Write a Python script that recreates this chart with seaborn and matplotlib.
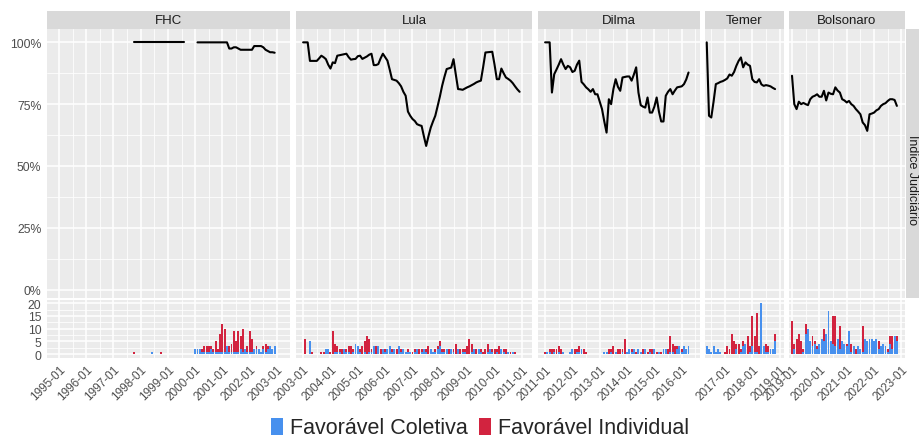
import numpy as np
import pandas as pd
import matplotlib
matplotlib.use("Agg")
import matplotlib.pyplot as plt
import seaborn as sns
from matplotlib.patches import Patch

# ---------------- data ----------------
panels = ["FHC", "Lula", "Dilma", "Temer", "Bolsonaro"]
series_start = {"FHC": (1997, 10), "Lula": (2003, 1), "Dilma": (2011, 1),
                "Temer": (2016, 5), "Bolsonaro": (2019, 1)}

fhc_indice = [100, 100, 100, 100, 100, 100, 100, 100, 100, 100, 100, 100,
              100, 100, 100, 100, 100, 100, 100, 100, 100, 100, 100,
              np.nan, np.nan, np.nan, np.nan, np.nan,
              100, 100, 100, 100, 100, 100, 100, 100, 100, 100, 100, 100, 100, 100,
              97.5, 97.5, 98, 98, 97.5, 97, 97, 97, 97, 97, 97,
              98.5, 98.5, 98.5, 98.5, 98, 97, 96.5, 96, 96, 95.8]
lula_indice = [100, 100, 100, 92.5, 92.5, 92.5, 92.5, 93.5, 94.6, 94, 93.2, 91,
               89.4, 91.9, 91.6, 94.6, 94.8, 95, 95.2, 95.4, 94, 93, 93.2, 93.3,
               94.4, 94.6, 93.3, 93.8, 94.3, 95, 95.4, 90.8, 90.8, 91.2, 93.5, 95.4,
               94, 92.6, 89, 85.1, 84.8, 84.5, 83.5, 82.2, 80, 78.4, 72, 70.3,
               69, 68.2, 66.9, 66.5, 66.2, 62, 58.1, 62, 65.5, 68, 70.3, 74.1,
               78, 82.4, 86, 89.2, 89.5, 89.8, 93.2, 87, 81.1, 81, 80.8, 81.3,
               81.8, 82.2, 82.7, 83.2, 83.8, 84.2, 84.5, 90, 95.9, 96, 96.1, 96.2,
               91, 85.1, 85.1, 89.4, 87.5, 85.8, 85.2, 84.5, 83.5, 82.2, 81, 80]
dilma_indice = [100, 100, 100, 79.7, 87.1, 89, 91, 93.2, 91, 89.2, 90.5, 89.9,
                88, 88.5, 91, 92.6, 84, 83, 81.8, 81, 80, 81.1, 79, 79,
                76, 73, 68, 63.5, 77, 75, 81.1, 85.1, 82, 80.4, 85.8, 86,
                86.2, 86.2, 84.5, 87, 89.9, 79.7, 74.6, 74, 73.6, 77.7, 71.6, 71.6,
                74, 77.7, 72, 68, 68, 78.4, 80, 81.1, 79, 80.5, 81.8, 82,
                82.2, 83.1, 85, 87.8]
temer_indice = [100, 70.3, 69.6, 76, 83.1, 83.5, 84, 84.3, 84.8, 85.4, 87, 86.5,
                88, 90.5, 92.5, 93.9, 89.9, 91.9, 91, 90.5, 85.1, 84, 83.8, 85.1,
                83, 82.4, 82.7, 82.5, 82.2, 81.6, 81.1]
bolsonaro_indice = [86.5, 75, 73, 76, 75, 75.5, 75, 74.6, 77, 78, 78.4, 79,
                    78, 78, 80.4, 76.5, 79.7, 79.2, 79, 81.8, 80.5, 79.7, 77, 76.5,
                    75.7, 76.3, 75, 74.3, 73, 72, 70.9, 67.6, 66.5, 64.2, 70.9, 71.2,
                    71.6, 72.5, 73, 74.3, 75, 75.4, 76.3, 77, 77, 76.7, 74.3]

fhc_coletiva = [0, 0, 0, 0, 0, 0, 0, 0, 1, 0, 0, 0, 0, 0, 0, 0, 0, 0, 0, 0, 0, 0, 0, 0, 0, 0, 0,
                2, 2, 2, 1, 1, 1, 1, 2, 1, 1, 1, 1, 1, 1, 3, 1, 1, 1, 1, 1, 2, 1, 2, 1,
                1, 1, 2, 2, 2, 1, 2, 1, 2, 3, 2, 3]
fhc_individual = [1, 0, 0, 0, 0, 0, 0, 0, 0, 0, 0, 0, 1, 0, 0, 0, 0, 0, 0, 0, 0, 0, 0, 0, 0, 0, 0,
                  0, 0, 0, 1, 2, 2, 2, 1, 1, 4, 1, 7, 11, 9, 0, 2, 3, 8, 4, 8, 5, 9, 0, 2,
                  8, 5, 0, 1, 0, 0, 1, 3, 1, 0, 0, 0]
lula_coletiva = [0, 0, 0, 5, 0, 0, 0, 0, 0, 0, 2, 2, 0, 0, 1, 1, 1, 0, 2, 1, 1, 0, 1, 4,
                 3, 1, 0, 1, 0, 1, 1, 3, 0, 3, 0, 2, 1, 2, 3, 1, 2, 0, 3, 1, 2, 1, 1, 1,
                 0, 1, 2, 0, 1, 2, 1, 0, 2, 1, 1, 2, 3, 1, 1, 2, 0, 2, 1, 0, 2, 0, 1, 1,
                 0, 0, 1, 2, 0, 2, 1, 0, 0, 1, 2, 1, 0, 1, 0, 2, 1, 0, 1, 0, 1, 0, 0, 0]
lula_individual = [0, 6, 0, 0, 1, 0, 0, 0, 1, 1, 0, 0, 1, 9, 3, 2, 1, 2, 0, 1, 2, 3, 1, 0,
                   0, 1, 3, 4, 7, 5, 1, 0, 3, 0, 2, 0, 1, 0, 0, 1, 0, 2, 0, 1, 0, 0, 1, 0,
                   1, 1, 0, 2, 1, 0, 1, 3, 0, 0, 1, 1, 2, 1, 1, 0, 2, 0, 1, 4, 0, 2, 1, 1,
                   3, 6, 3, 0, 2, 0, 1, 1, 2, 3, 0, 1, 2, 1, 3, 0, 1, 2, 0, 1, 0, 1, 0, 0]
dilma_coletiva = [0, 1, 1, 0, 1, 0, 1, 0, 1, 0, 0, 1, 2, 0, 1, 1, 2, 0, 0, 0, 0, 0, 0, 0,
                  0, 0, 1, 1, 0, 1, 0, 1, 0, 0, 1, 0, 1, 2, 1, 2, 0, 2, 1, 0, 2, 0, 1, 0,
                  2, 0, 1, 0, 2, 2, 0, 1, 1, 0, 2, 3, 1, 3, 2, 3]
dilma_individual = [1, 0, 1, 2, 1, 2, 2, 2, 0, 0, 0, 0, 0, 2, 1, 2, 0, 2, 1, 0, 0, 0, 0, 0,
                    0, 0, 0, 0, 2, 1, 3, 0, 2, 2, 1, 6, 0, 0, 1, 0, 1, 0, 0, 2, 0, 1, 1, 2,
                    0, 1, 0, 1, 0, 0, 2, 6, 3, 3, 1, 0, 1, 0, 0, 0]
temer_coletiva = [3, 2, 1, 3, 1, 2, 1, 0, 0, 0, 0, 0, 0, 2, 0, 1, 3, 4, 0, 1, 3, 1, 1, 0,
                  20, 3, 1, 1, 2, 2, 5]
temer_individual = [0, 0, 0, 0, 0, 0, 0, 0, 1, 3, 2, 8, 5, 2, 4, 1, 2, 0, 7, 2, 12, 6, 15, 3,
                    0, 0, 3, 2, 0, 0, 3]
bolsonaro_coletiva = [0, 2, 0, 0, 0, 1, 8, 10, 5, 3, 4, 2, 4, 6, 5, 8, 17, 5, 4, 3, 6, 2, 5, 4,
                      3, 9, 1, 3, 0, 3, 2, 1, 6, 5, 6, 6, 5, 6, 2, 3, 4, 3, 1, 4, 2, 7, 5]
bolsonaro_individual = [13, 2, 6, 8, 5, 1, 4, 0, 0, 4, 1, 1, 0, 0, 5, 0, 0, 0, 11, 12, 0, 9, 0, 0,
                        1, 0, 3, 0, 2, 0, 0, 10, 0, 0, 0, 0, 0, 0, 3, 0, 0, 0, 1, 3, 5, 0, 2]

indice = {"FHC": fhc_indice, "Lula": lula_indice, "Dilma": dilma_indice,
          "Temer": temer_indice, "Bolsonaro": bolsonaro_indice}
coletiva = {"FHC": fhc_coletiva, "Lula": lula_coletiva, "Dilma": dilma_coletiva,
            "Temer": temer_coletiva, "Bolsonaro": bolsonaro_coletiva}
individual = {"FHC": fhc_individual, "Lula": lula_individual, "Dilma": dilma_individual,
              "Temer": temer_individual, "Bolsonaro": bolsonaro_individual}

tick_labels = {
    "FHC": ["1995-01", "1996-01", "1997-01", "1998-01", "1999-01", "2000-01", "2001-01", "2002-01", "2003-01"],
    "Lula": ["2003-01", "2004-01", "2005-01", "2006-01", "2007-01", "2008-01", "2009-01", "2010-01", "2011-01"],
    "Dilma": ["2011-01", "2012-01", "2013-01", "2014-01", "2015-01", "2016-01"],
    "Temer": ["2017-01", "2018-01", "2019-01"],
    "Bolsonaro": ["2019-01", "2020-01", "2021-01", "2022-01", "2023-01"],
}
pct_ticks = [0, 25, 50, 75, 100]
pct_labels = ["0%", "25%", "50%", "75%", "100%"]
count_ticks = [0, 5, 10, 15, 20]
COL, IND = "Favorável Coletiva", "Favorável Individual"
row_label = "Índice Judiciário"

# ---------------- layout / style ----------------
W, H = 920, 439
FONT = ["Liberation Sans", "DejaVu Sans"]
sns.set_theme(style="white")
plt.rcParams["font.family"] = FONT

BLUE, RED = "#4790EE", "#D2233F"
PANEL_BG, STRIP_BG = "#EBEBEB", "#D9D9D9"

panel_px = {"FHC": (47, 290), "Lula": (296, 532), "Dilma": (538, 700),
            "Temer": (705, 784), "Bolsonaro": (789, 905)}
xlims = {"FHC": (1994.56, 2003.48), "Lula": (2002.74, 2011.37),
         "Dilma": (2010.74, 2016.67), "Temer": (2016.27, 2019.16),
         "Bolsonaro": (2018.89, 2023.13)}
TOP_Y, BOT_Y, STRIP_Y = (30, 299), (301, 358.5), (12, 30)


def rect(x0, y0, x1, y1):
    return [x0 / W, 1 - y1 / H, (x1 - x0) / W, (y1 - y0) / H]


def month_pos(start, n):
    y, m = start
    return np.array([y + (m - 1 + k) / 12 for k in range(n)])


def label_pos(lbl):
    y, m = lbl.split("-")
    return int(y) + (int(m) - 1) / 12


fig = plt.figure(figsize=(W / 100, H / 100), dpi=100)


def style_axes(ax, xl, yt, yminor, ylim):
    ax.set_facecolor(PANEL_BG)
    for s in ax.spines.values():
        s.set_visible(False)
    ax.set_xlim(*xl)
    ax.set_ylim(*ylim)
    ax.set_yticks(yt)
    ax.set_yticks(yminor, minor=True)
    ax.grid(which="major", color="white", linewidth=1.1)
    ax.grid(which="minor", color="white", linewidth=0.55)
    ax.set_axisbelow(True)
    ax.set_xlabel("")
    ax.set_ylabel("")


for i, p in enumerate(panels):
    x0, x1 = panel_px[p]
    axt = fig.add_axes(rect(x0, TOP_Y[0], x1, TOP_Y[1]))
    axb = fig.add_axes(rect(x0, BOT_Y[0], x1, BOT_Y[1]))
    axs = fig.add_axes(rect(x0, STRIP_Y[0], x1, STRIP_Y[1]))

    t = month_pos(series_start[p], len(indice[p]))
    vals = np.array(indice[p], dtype=float)
    seg = np.cumsum(np.isnan(vals))
    df_line = pd.DataFrame({"t": t, "v": vals, "seg": seg}).dropna()
    sns.lineplot(data=df_line, x="t", y="v", units="seg", estimator=None,
                 color="black", linewidth=1.5, ax=axt)

    tb = month_pos(series_start[p], len(coletiva[p]))
    df_bar = pd.concat([
        pd.DataFrame({"t": tb, "n": coletiva[p], "tipo": COL}),
        pd.DataFrame({"t": tb, "n": individual[p], "tipo": IND}),
    ], ignore_index=True)
    edges = list(np.append(tb - 1 / 24, tb[-1] + 1 / 24))
    sns.histplot(data=df_bar, x="t", weights="n", hue="tipo", hue_order=[IND, COL],
                 palette={COL: BLUE, IND: RED}, multiple="stack", bins=edges,
                 shrink=0.85, alpha=1, linewidth=0, legend=False, ax=axb)

    ticks = [label_pos(s) for s in tick_labels[p]]
    minor = [a + 0.5 for a in ticks[:-1]]
    xl = xlims[p]
    minor = [m for m in minor + [ticks[0] - 0.5, ticks[-1] + 0.5] if xl[0] < m < xl[1]]

    style_axes(axt, xl, pct_ticks, [12.5, 37.5, 62.5, 87.5], (-3.4, 105.4))
    style_axes(axb, xl, count_ticks, [2.5, 7.5, 12.5, 17.5], (-1.35, 21.3))
    for ax in (axt, axb):
        ax.set_xticks(ticks)
        ax.set_xticks(minor, minor=True)
    axt.tick_params(axis="x", which="both", length=0, labelbottom=False)
    axb.tick_params(axis="x", which="major", length=3, width=0.6, color="#333333",
                    labelsize=8.5, labelcolor="#4D4D4D", pad=1)
    axb.tick_params(axis="x", which="minor", length=0)
    axb.set_xticklabels(tick_labels[p], rotation=45, ha="right",
                        rotation_mode="anchor")
    for ax in (axt, axb):
        ax.tick_params(axis="y", which="minor", length=0)
    if i == 0:
        axt.set_yticklabels(pct_labels)
        axb.set_yticklabels([str(c) for c in count_ticks])
        for ax in (axt, axb):
            ax.tick_params(axis="y", which="major", length=3, width=0.6,
                           color="#333333", labelsize=8.8, labelcolor="#4D4D4D", pad=1)
    else:
        for ax in (axt, axb):
            ax.tick_params(axis="y", which="major", length=0, labelleft=False)

    axs.set_facecolor(STRIP_BG)
    axs.set_xticks([])
    axs.set_yticks([])
    for s in axs.spines.values():
        s.set_visible(False)
    axs.text(0.5, 0.5, p, ha="center", va="center", fontsize=9.5,
             color="#1A1A1A", transform=axs.transAxes)

# right strip (top row)
axr = fig.add_axes(rect(906, TOP_Y[0], 930, TOP_Y[1]))
axr.set_facecolor(STRIP_BG)
axr.set_xticks([])
axr.set_yticks([])
for s in axr.spines.values():
    s.set_visible(False)
fig.text(912.5 / W, 1 - 180 / H, row_label, rotation=270, ha="center", va="center",
         fontsize=9, color="#1A1A1A")

handles = [Patch(facecolor=BLUE, edgecolor="none", label=COL),
           Patch(facecolor=RED, edgecolor="none", label=IND)]
fig.legend(handles=handles, loc="center", bbox_to_anchor=(480 / W, 1 - 429 / H),
           ncol=2, frameon=False, fontsize=15.5, handlelength=0.56, handleheight=0.84,
           handletextpad=0.33, columnspacing=0.5, borderpad=0)

fig.savefig("out.png", dpi=100)
